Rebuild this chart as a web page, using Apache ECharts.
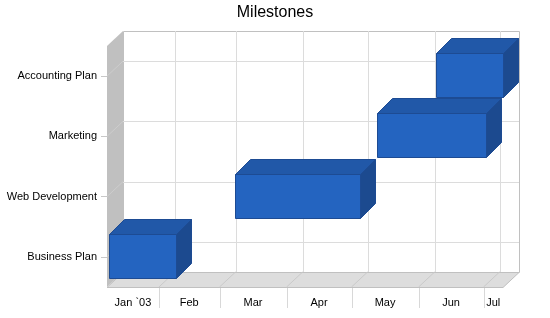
<!DOCTYPE html>
<html>
<head>
<meta charset="utf-8">
<script src="https://cdn.jsdelivr.net/npm/echarts@6/dist/echarts.min.js"></script>
<style>
html,body{margin:0;padding:0;background:#fff;}
#chart{width:550px;height:318px;}
</style>
</head>
<body>
<div id="chart"></div>
<script>
// ---- data ----
const categories = ['Business Plan', 'Web Development', 'Marketing', 'Accounting Plan'];
const startDates = ['2003-01-09', '2003-03-08', '2003-05-13', '2003-06-09'];
const endDates   = ['2003-02-09', '2003-05-05', '2003-07-02', '2003-07-10'];
const monthStarts = ['2003-01-01', '2003-02-01', '2003-03-01', '2003-04-01', '2003-05-01', '2003-06-01', '2003-07-01', '2003-08-01'];
const monthLabels = ['Jan `03', 'Feb', 'Mar', 'Apr', 'May', 'Jun', 'Jul'];
const axisMin = '2003-01-08';
const axisMax = '2003-07-10';

function t(s) { return new Date(s + 'T00:00:00').getTime(); }

const FONT = '"Liberation Sans", Arial, sans-serif';
const DX = 16, DY = 15;      // wall depth
const BD = 15;               // bar depth

const barData = [];
for (let i = categories.length - 1; i >= 0; i--) {
  barData.push([i, t(startDates[i]), t(endDates[i])]);
}
const monthData = monthLabels.map((m, i) => [t(monthStarts[i]), t(monthStarts[i + 1]), i]);

const chart = echarts.init(document.getElementById('chart'), null, { renderer: 'canvas' });

function bgRender(params, api) {
  const cs = params.coordSys;
  const x0 = cs.x, x1 = cs.x + cs.width, y0 = cs.y, y1 = cs.y + cs.height;
  const kids = [];
  // back wall
  kids.push({ type: 'rect', shape: { x: x0 + DX + 0.5, y: y0 - DY + 0.5, width: x1 - x0, height: y1 - y0 },
    style: { fill: '#fff', stroke: '#c0c0c0', lineWidth: 1 } });
  // back grid: horizontal at category centers
  for (let c = 0; c < categories.length; c++) {
    const yc = Math.round(api.coord([t(axisMin), c])[1] - DY) + 0.5;
    kids.push({ type: 'line', shape: { x1: x0 + DX, y1: yc, x2: x1 + DX, y2: yc },
      style: { stroke: '#dcdcdc', lineWidth: 1 } });
  }
  // back grid: vertical at month boundaries
  const mn = t(axisMin), mx = t(axisMax);
  for (let i = 0; i < monthStarts.length; i++) {
    const v = t(monthStarts[i]);
    if (v <= mn || v >= mx) continue;
    const xv = Math.round(api.coord([v, 0])[0] + DX) + 0.5;
    kids.push({ type: 'line', shape: { x1: xv, y1: y0 - DY, x2: xv, y2: y1 - DY },
      style: { stroke: '#dcdcdc', lineWidth: 1 } });
  }
  // left wall
  kids.push({ type: 'polygon', shape: { points: [[x0, y0], [x0 + DX, y0 - DY], [x0 + DX, y1 - DY], [x0, y1]] },
    style: { fill: '#c0c0c0' } });
  for (let c = 0; c < categories.length; c++) {
    const yc = api.coord([t(axisMin), c])[1];
    kids.push({ type: 'line', shape: { x1: x0, y1: yc, x2: x0 + DX, y2: yc - DY },
      style: { stroke: '#cdcdcd', lineWidth: 1 } });
  }
  // floor
  kids.push({ type: 'polygon', shape: { points: [[x0, y1 + 0.5], [x0 + DX, y1 - DY + 0.5], [x1 + DX, y1 - DY + 0.5], [x1, y1 + 0.5]] },
    style: { fill: '#dddddd', stroke: '#c0c0c0', lineWidth: 1 } });
  for (let i = 0; i < monthStarts.length; i++) {
    const v = t(monthStarts[i]);
    if (v <= mn || v >= mx) continue;
    const xv = api.coord([v, 0])[0];
    kids.push({ type: 'line', shape: { x1: xv, y1: y1, x2: xv + DX, y2: y1 - DY },
      style: { stroke: '#cacaca', lineWidth: 1 } });
    const xs = Math.round(xv) + 0.5;
    kids.push({ type: 'line', shape: { x1: xs, y1: y1 + 1, x2: xs, y2: y1 + 21 },
      style: { stroke: '#d8d8d8', lineWidth: 1 } });
  }
  return { type: 'group', children: kids };
}

function monthRender(params, api) {
  const cs = params.coordSys;
  const x0 = cs.x, x1 = cs.x + cs.width, y1 = cs.y + cs.height;
  const a = Math.max(api.coord([api.value(0), 0])[0], x0);
  const b = Math.min(api.coord([api.value(1), 0])[0], x1);
  if (b <= a) return null;
  return { type: 'text', style: { text: monthLabels[api.value(2)], x: (a + b) / 2, y: y1 + 16,
    textAlign: 'center', textVerticalAlign: 'middle', fill: '#000', font: '11px ' + FONT } };
}

function barRender(params, api) {
  const cat = api.value(0);
  const p1 = api.coord([api.value(1), cat]);
  const p2 = api.coord([api.value(2), cat]);
  const h = Math.round(api.size([0, 1])[1] * 0.73);
  const xs = Math.round(p1[0]) + 0.5, xe = Math.round(p2[0]) + 0.5;
  const yt = Math.round(p1[1] - h / 2) - 0.5, yb = yt + h;
  const st = '#1d4b93';
  return { type: 'group', children: [
    { type: 'polygon', shape: { points: [[xs, yt], [xs + BD, yt - BD], [xe + BD, yt - BD], [xe, yt]] },
      style: { fill: '#2158a8', stroke: st, lineWidth: 1 } },
    { type: 'polygon', shape: { points: [[xe, yt], [xe + BD, yt - BD], [xe + BD, yb - BD], [xe, yb]] },
      style: { fill: '#1c4a8f', stroke: st, lineWidth: 1 } },
    { type: 'rect', shape: { x: xs, y: yt, width: xe - xs, height: h },
      style: { fill: '#2464c0', stroke: st, lineWidth: 1 } }
  ] };
}

chart.setOption({
  animation: false,
  backgroundColor: '#fff',
  title: { text: 'Milestones', left: 'center', top: 5, padding: 0,
    textStyle: { fontFamily: FONT, fontSize: 16, fontWeight: 'normal', color: '#000' } },
  grid: { left: 107, right: 47, top: 46, bottom: 31, containLabel: false },
  xAxis: { type: 'time', min: t(axisMin), max: t(axisMax),
    axisLine: { show: false }, axisTick: { show: false }, axisLabel: { show: false }, splitLine: { show: false } },
  yAxis: { type: 'category', data: categories,
    axisLine: { show: false },
    axisTick: { show: true, alignWithLabel: true, length: 6, lineStyle: { color: '#c8c8c8' } },
    axisLabel: { fontFamily: FONT, fontSize: 11, color: '#000', margin: 10, padding: [2, 0, 0, 0] },
    splitLine: { show: false } },
  series: [
    { type: 'custom', z: 1, renderItem: bgRender, data: [[t(axisMin), 0]], silent: true },
    { type: 'custom', z: 2, renderItem: monthRender, data: monthData, encode: { x: [0, 1] }, silent: true },
    { type: 'custom', z: 3, renderItem: barRender, data: barData, encode: { x: [1, 2], y: 0 } }
  ]
});
</script>
</body>
</html>
